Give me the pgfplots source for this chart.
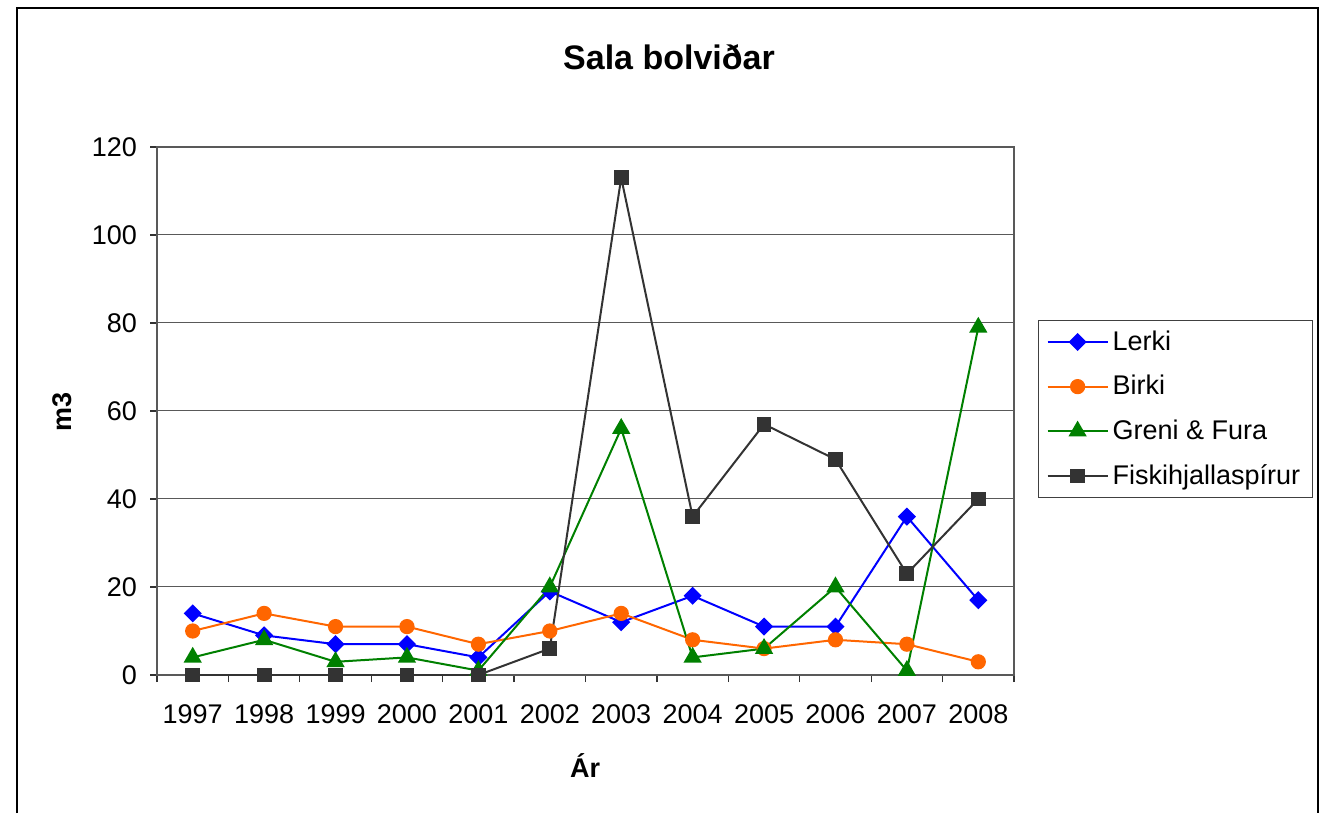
\documentclass[border=0pt]{standalone}
\usepackage{fontspec}
\setmainfont{Liberation Sans}
\usepackage{pgfplots}
\pgfplotsset{compat=1.18}
\definecolor{lerki}{RGB}{0,0,255}
\definecolor{birki}{RGB}{255,102,0}
\definecolor{greni}{RGB}{0,128,0}
\definecolor{fiski}{RGB}{51,51,51}
\begin{document}
\begin{tikzpicture}
\path[use as bounding box] (0,0) rectangle (662.5pt,406.5pt);
\draw[line width=1.2pt] (8.5pt,0) -- (8.5pt,402.5pt) -- (659pt,402.5pt) -- (659pt,0);
\node[font=\bfseries\fontsize{17}{20}\selectfont] at (334.5pt,378pt) {Sala bolviðar};
\node[font=\bfseries\fontsize{13.5}{15}\selectfont, rotate=90] at (31pt,200.5pt) {m3};
\node[font=\bfseries\fontsize{13.5}{15}\selectfont] at (292.5pt,23.5pt) {Ár};
\begin{axis}[
  at={(78.5pt,69pt)}, anchor=south west,
  scale only axis, width=428.5pt, height=264pt,
  xmin=-0.5, xmax=11.5, ymin=0, ymax=120,
  xtick={0,...,11},
  xticklabels={1997,1998,1999,2000,2001,2002,2003,2004,2005,2006,2007,2008},
  minor xtick={-0.5,0.5,...,11.5},
  major x tick style={draw=none},
  minor x tick style={black!80, line width=0.6pt},
  ytick={0,20,...,120},
  ytick style={black!80, line width=0.6pt},
  tick align=outside,
  major tick length=3.5pt, minor tick length=3.5pt,
  xtick pos=bottom, ytick pos=left,
  ymajorgrids, grid style={black!65, line width=0.5pt},
  axis line style={black!65, line width=0.7pt},
  tick label style={font=\fontsize{13.5}{15}\selectfont},
  /pgf/number format/assume math mode=true,
  xticklabel style={yshift=-8pt},
  yticklabel style={xshift=-3pt},
  legend cell align=left,
  legend style={at={(1.028,0.672)}, anchor=north west, draw=black!75, line width=0.6pt,
    font=\fontsize{13.5}{15}\selectfont, row sep=7pt, inner xsep=4pt, inner ysep=3pt},
  legend image code/.code={\draw[mark repeat=2,mark phase=2] plot coordinates {(0pt,0pt)(15pt,0pt)(30pt,0pt)};},
]
\addplot[lerki, line width=1pt, mark=square*, mark size=2.7pt, mark options={solid, rotate=45}] coordinates {
(0,14) (1,9) (2,7) (3,7) (4,4) (5,19) (6,12) (7,18) (8,11) (9,11) (10,36) (11,17)};
\addlegendentry{Lerki}
\addplot[birki, line width=1pt, mark=*, mark size=3.3pt] coordinates {
(0,10) (1,14) (2,11) (3,11) (4,7) (5,10) (6,14) (7,8) (8,6) (9,8) (10,7) (11,3)};
\addlegendentry{Birki}
\addplot[greni, line width=1pt, mark=triangle*, mark size=4.3pt] coordinates {
(0,4) (1,8) (2,3) (3,4) (4,1) (5,20) (6,56) (7,4) (8,6) (9,20) (10,1) (11,79)};
\addlegendentry{Greni \& Fura}
\addplot[fiski, line width=1pt, mark=square*, mark size=3.2pt] coordinates {
(0,0) (1,0) (2,0) (3,0) (4,0) (5,6) (6,113) (7,36) (8,57) (9,49) (10,23) (11,40)};
\addlegendentry{Fiskihjallaspírur}
\end{axis}
\end{tikzpicture}
\end{document}
